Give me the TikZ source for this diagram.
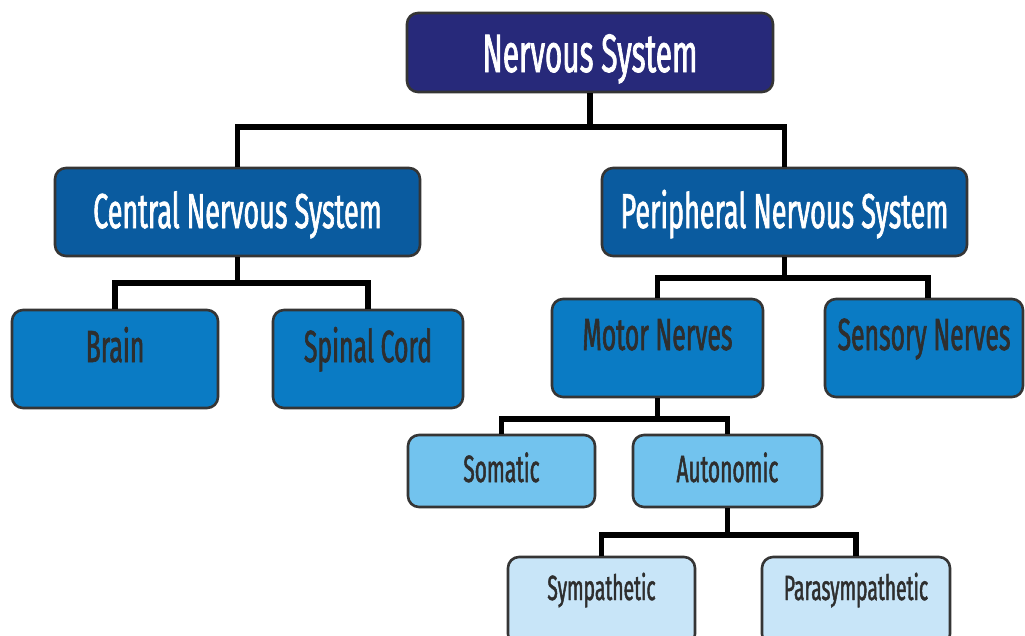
\documentclass[tikz,border=0pt]{standalone}
\usepackage{fontspec}
\setmainfont{Fira Sans}[FakeStretch=0.55, FakeBold=1.3]
\definecolor{c1}{HTML}{27297A}
\definecolor{c2}{HTML}{0A5B9F}
\definecolor{c3}{HTML}{0A7BC4}
\definecolor{c4}{HTML}{72C3EE}
\definecolor{c5}{HTML}{C8E5F8}
\definecolor{bord}{HTML}{353535}
\definecolor{txt}{HTML}{2E2E2E}
\tikzset{
  box/.style={draw=bord, line width=2.6pt, rounded corners=11pt, inner sep=0pt},
  lvA/.style={box, fill=c1, text=white, minimum width=366pt, minimum height=79pt,
    text height=39pt, text depth=0pt, font=\fontsize{54}{60}\selectfont},
  lvB/.style={box, fill=c2, text=white, minimum width=365pt, minimum height=88pt,
    text height=32pt, text depth=0pt, font=\fontsize{49}{55}\selectfont},
  lvC/.style={box, fill=c3, text=txt, minimum height=98pt,
    text height=30pt, text depth=24pt, font=\fontsize{45}{50}\selectfont},
  lvD/.style={box, fill=c4, text=txt, minimum width=187pt, minimum height=72pt,
    text height=26pt, text depth=4pt, font=\fontsize{38}{42}\selectfont},
  lvE/.style={box, fill=c5, text=txt, minimum width=187pt, minimum height=88pt,
    text height=24pt, text depth=26pt, font=\fontsize{35}{40}\selectfont},
  conn/.style={draw=black, line width=5.5pt, line join=miter}
}
\begin{document}
\begin{tikzpicture}[x=1pt, y=-1pt]
\fill[white] (0,0) rectangle (1025,635);
\useasboundingbox (0,0) rectangle (1025,635);

\node[lvA] (ns) at (590,52.5) {Nervous System};
\node[lvB] (cns) at (237.5,212) {Central Nervous System};
\node[lvB] (pns) at (784.5,212) {Peripheral Nervous System};
\node[lvC, minimum width=206pt] (brain) at (115,359) {Brain};
\node[lvC, minimum width=190pt] (spinal) at (368,359) {Spinal Cord};
\node[lvC, minimum width=211pt, text depth=26pt] (motor) at (657.5,348) {Motor Nerves};
\node[lvC, minimum width=198pt, text depth=26pt] (sensory) at (924,348) {Sensory Nerves};
\node[lvD] (somatic) at (501.5,471) {Somatic};
\node[lvD, minimum width=189pt] (auto) at (727.5,471) {Autonomic};
\node[lvE] (symp) at (601.5,601) {Sympathetic};
\node[lvE, minimum width=188pt] (para) at (856,601) {Parasympathetic};

\coordinate (j1) at (590,127);
\coordinate (j2) at (237.5,283);
\coordinate (j3) at (784.5,278);
\coordinate (j4) at (657.5,419);
\coordinate (j5) at (727.5,535);

\draw[conn] (ns.south) -- (j1);
\draw[conn] (cns.north) |- (j1) -| (pns.north);
\draw[conn] (cns.south) -- (j2);
\draw[conn] (brain.north) |- (j2) -| (spinal.north);
\draw[conn] (pns.south) -- (j3);
\draw[conn] (motor.north) |- (j3) -| ([xshift=4pt]sensory.north);
\draw[conn] (motor.south) -- (j4);
\draw[conn] (somatic.north) |- (j4) -| (auto.north);
\draw[conn] (auto.south) -- (j5);
\draw[conn] (symp.north) |- (j5) -| (para.north);
\end{tikzpicture}
\end{document}
